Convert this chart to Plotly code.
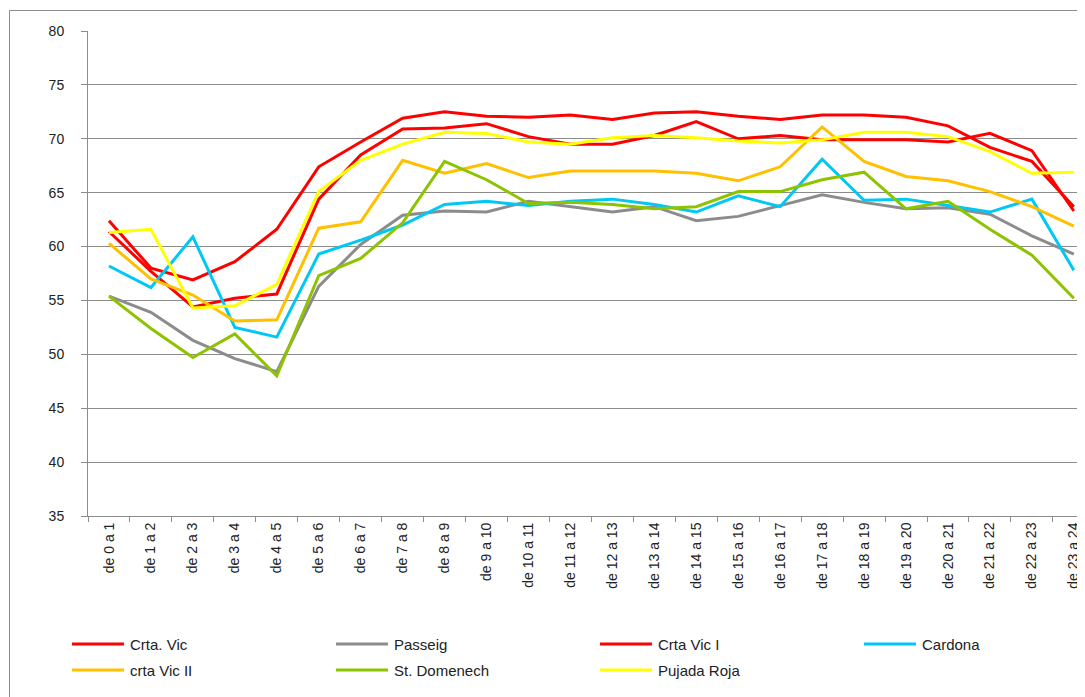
import plotly.graph_objects as go

categories = [f"de {h} a {h+1}" for h in range(24)]

crta_vic = [62.4, 58.0, 56.9, 58.6, 61.6, 67.4, 69.7, 71.9, 72.5, 72.1, 72.0, 72.2,
            71.8, 72.4, 72.5, 72.1, 71.8, 72.2, 72.2, 72.0, 71.2, 69.2, 67.9, 63.7]
passeig = [55.4, 53.9, 51.3, 49.6, 48.4, 56.3, 60.2, 62.9, 63.3, 63.2, 64.2, 63.7,
           63.2, 63.7, 62.4, 62.8, 63.8, 64.8, 64.1, 63.5, 63.6, 63.0, 61.0, 59.3]
crta_vic_i = [61.4, 57.7, 54.4, 55.2, 55.6, 64.4, 68.5, 70.9, 71.0, 71.4, 70.2, 69.5,
              69.5, 70.3, 71.6, 70.0, 70.3, 69.9, 69.9, 69.9, 69.7, 70.5, 68.9, 63.3]
cardona = [58.2, 56.2, 60.9, 52.5, 51.6, 59.3, 60.6, 62.0, 63.9, 64.2, 63.8, 64.2,
           64.4, 63.9, 63.2, 64.7, 63.7, 68.1, 64.3, 64.4, 63.8, 63.2, 64.4, 57.8]
crta_vic_ii = [60.3, 57.0, 55.5, 53.1, 53.2, 61.7, 62.3, 68.0, 66.8, 67.7, 66.4, 67.0,
               67.0, 67.0, 66.8, 66.1, 67.4, 71.1, 67.9, 66.5, 66.1, 65.1, 63.7, 61.9]
st_domenech = [55.4, 52.4, 49.7, 51.9, 48.0, 57.3, 58.9, 62.2, 67.9, 66.2, 64.0, 64.1,
               63.9, 63.5, 63.7, 65.1, 65.1, 66.2, 66.9, 63.5, 64.2, 61.6, 59.2, 55.2]
pujada_roja = [61.3, 61.6, 54.3, 54.5, 56.5, 65.1, 68.0, 69.5, 70.6, 70.5, 69.7, 69.5,
               70.1, 70.3, 70.1, 69.8, 69.6, 69.9, 70.6, 70.6, 70.2, 68.8, 66.8, 66.9]

series_names = ["Crta. Vic", "Passeig", "Crta Vic I", "Cardona",
                "crta Vic II", "St. Domenech", "Pujada Roja"]
series_values = [crta_vic, passeig, crta_vic_i, cardona, crta_vic_ii, st_domenech, pujada_roja]
series_colors = ["#FF0000", "#8C8C8C", "#FF0000", "#00C8F5", "#FFC000", "#8DC300", "#FFFF00"]

y_ticks = [35, 40, 45, 50, 55, 60, 65, 70, 75, 80]

FONT = "Liberation Sans, Arial, sans-serif"
OFF = 8  # page body margin offset
W, H = 1085 - OFF, 697 - OFF
ML, MR, MT, MB = 88 - OFF, 0, 31 - OFF, 181
PW, PH = W - ML - MR, H - MT - MB
cat_w = 41.95


def px_x(px):
    return (px - OFF - ML) / PW


def px_y(py):
    return (H - MB - (py - OFF)) / PH


fig = go.Figure()
for name, vals, col in zip(series_names, series_values, series_colors):
    fig.add_trace(go.Scatter(x=categories, y=vals, name=name, mode="lines",
                             line=dict(color=col, width=3), showlegend=False))

shapes = []
annotations = []
# outer chart border
shapes.append(dict(type="rect", xref="paper", yref="paper",
                   x0=px_x(9.5), x1=px_x(1100), y0=px_y(710), y1=px_y(10.5),
                   line=dict(color="#8C8C8C", width=1), layer="below"))

# manual legend: row 1 has 4 entries, row 2 has 3 entries
col_x = [72, 336, 600, 864]
row_y = [644, 670]
positions = [(0, 0), (0, 1), (0, 2), (0, 3), (1, 0), (1, 1), (1, 2)]
for idx, (r, c) in enumerate(positions):
    lx = col_x[c]
    ly = row_y[r]
    shapes.append(dict(type="line", xref="paper", yref="paper",
                       x0=px_x(lx), x1=px_x(lx + 52), y0=px_y(ly), y1=px_y(ly),
                       line=dict(color=series_colors[idx], width=3)))
    annotations.append(dict(xref="paper", yref="paper", x=px_x(lx + 56), y=px_y(ly),
                            text=series_names[idx], showarrow=False,
                            xanchor="left", yanchor="middle",
                            font=dict(family=FONT, size=15, color="#222222")))

fig.update_layout(
    width=W, height=H,
    margin=dict(l=ML, r=MR, t=MT, b=MB, autoexpand=False),
    paper_bgcolor="white", plot_bgcolor="white",
    showlegend=False,
    shapes=shapes, annotations=annotations,
    font=dict(family=FONT, size=13, color="#222222"),
)
fig.update_xaxes(
    type="category", categoryorder="array", categoryarray=categories,
    range=[-0.5, -0.5 + PW / cat_w], automargin=False,
    tickson="boundaries", ticks="outside", ticklen=5, tickcolor="#8C8C8C",
    showline=True, linecolor="#8C8C8C", linewidth=1,
    showgrid=False, tickangle=-90, tickfont=dict(family=FONT, size=14, color="#222222"),
)
fig.update_yaxes(
    range=[35, 80], tickmode="array", tickvals=y_ticks, automargin=False,
    ticks="outside", ticklen=6, tickcolor="#8C8C8C",
    showline=True, linecolor="#8C8C8C", linewidth=1,
    showgrid=True, gridcolor="#8C8C8C", gridwidth=1, zeroline=False,
    ticklabelstandoff=14, tickfont=dict(family=FONT, size=14, color="#222222"),
)

fig.write_html("out.html")
